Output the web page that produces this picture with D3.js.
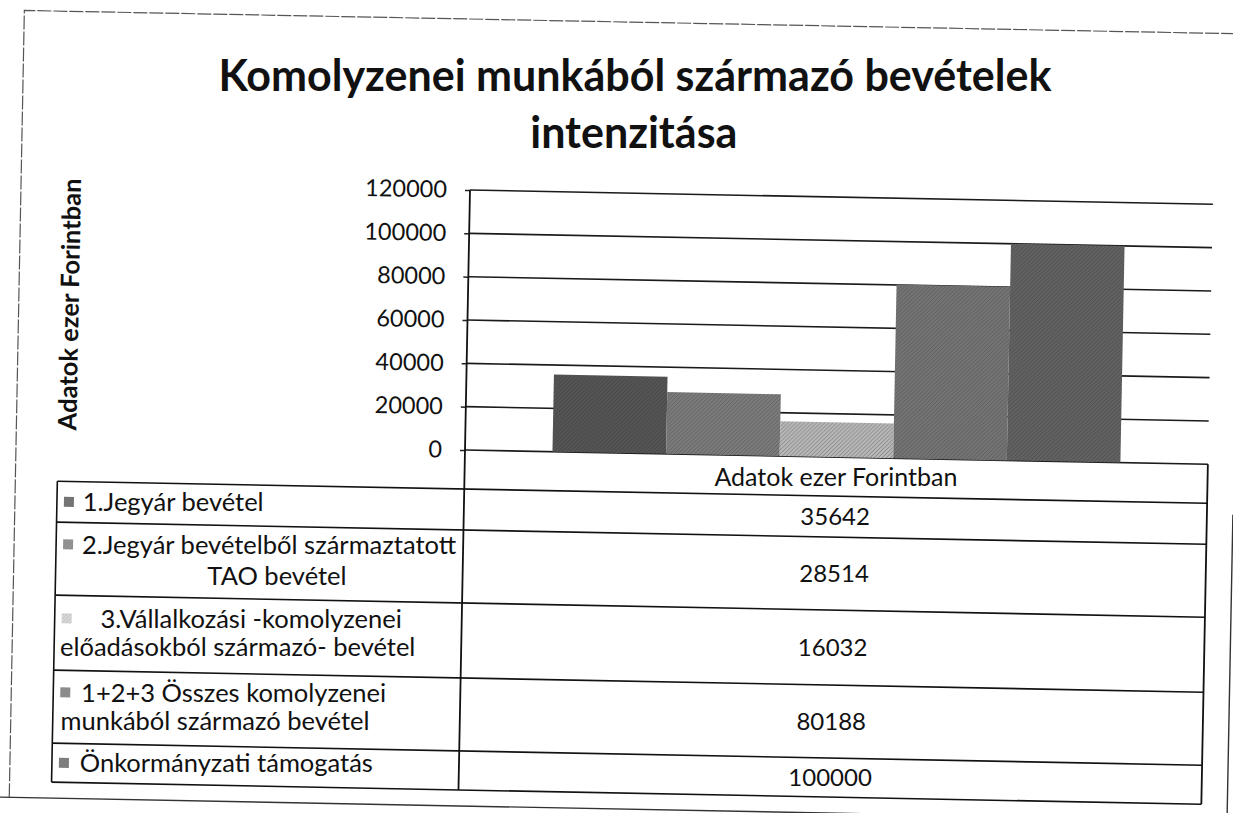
<!DOCTYPE html>
<html>
<head>
<meta charset="utf-8">
<script src="https://cdn.jsdelivr.net/npm/d3@7"></script>
<style>
  body { margin: 0; background: #fff; }
  svg { display: block; }
  text { font-family: Lato, "Open Sans", sans-serif; fill: #111; }
</style>
</head>
<body>
<div id="chart"></div>
<script>
// chart data
const titleLines = ["Komolyzenei munkából származó bevételek", "intenzitása"];
const axisTitle = "Adatok ezer Forintban";
const categories = ["Adatok ezer Forintban"];
const seriesNames = [
    ["1.Jegyár bevétel"],
    ["2.Jegyár bevételből származtatott", "TAO bevétel"],
    ["3.Vállalkozási -komolyzenei", "előadásokból származó- bevétel"],
    ["1+2+3 Összes komolyzenei", "munkából származó bevétel"],
    ["Önkormányzati támogatás"]
];
const seriesValues = [35642, 28514, 16032, 80188, 100000];
const yTicks = [0, 20000, 40000, 60000, 80000, 100000, 120000];

// look of the scanned page
const shades = ["#555555", "#7b7b7b", "#b8b8b8", "#747474", "#626262"];
const labelStartX = [[84], [84, 210], [104, 64], [86, 66], [86]];  // where each wrapped line starts

const width = 1233, height = 813;
const tilt = 1.1;
const plotLeft = 465, plotRight = 1208, plotTop = 190, plotBottom = 450;
const tableLeft = 58;
const rowEdges = [489, 530, 603, 678, 751, 790];  // table rows below the header

const svg = d3.select("#chart")
    .append("svg")
    .attr("width", width)
    .attr("height", height);

// halftone-ish textures for the bars
const defs = svg.append("defs");
shades.forEach((c, i) => {
    const p = defs.append("pattern")
        .attr("id", "tex" + i)
        .attr("width", 4)
        .attr("height", 4)
        .attr("patternUnits", "userSpaceOnUse");
    p.append("rect").attr("width", 4).attr("height", 4).attr("fill", c);
    p.append("path")
        .attr("d", i === 2 ? "M-1,1 L1,-1 M0,4 L4,0 M3,5 L5,3" : "M0,4 L4,0")
        .attr("stroke", d3.color(c).darker(i === 2 ? 0.9 : 0.6))
        .attr("stroke-width", 1);
});

// the whole page is scanned slightly tilted
const page = svg.append("g").attr("transform", `rotate(${tilt}, ${plotLeft}, ${plotBottom})`);

// keep a text upright at its (tilted) anchor
function upright(sel) {
    sel.attr("transform", function () {
        const t = d3.select(this);
        return `rotate(${-tilt}, ${t.attr("x")}, ${t.attr("y")})`;
    });
}

// outer frame of the page
page.append("path")
    .attr("d", `M16,806 L16,19 L1240,19`)
    .attr("fill", "none")
    .attr("stroke", "#555")
    .attr("stroke-width", 1.2)
    .attr("stroke-dasharray", "14 2");
page.append("path")
    .attr("d", `M0,806 L1234,806 L1234,500`)
    .attr("fill", "none")
    .attr("stroke", "#333")
    .attr("stroke-width", 1.4);

// title
page.selectAll("text.title")
    .data(titleLines)
    .join("text")
    .attr("class", "title")
    .attr("x", 628)
    .attr("y", (d, i) => 88 + i * 57)
    .attr("text-anchor", "middle")
    .style("font-size", "43px")
    .style("font-weight", "bold")
    .text(d => d)
    .call(upright);

// scales
const y = d3.scaleLinear()
    .domain([0, 120000])
    .range([plotBottom, plotTop]);

const x0 = d3.scaleBand()
    .domain(categories)
    .range([plotLeft, plotRight])
    .paddingInner(0)
    .paddingOuter(0.154);

const x1 = d3.scaleBand()
    .domain(d3.range(seriesValues.length))
    .range([0, x0.bandwidth()]);

// gridlines + axis
const yAxis = d3.axisLeft(y)
    .tickValues(yTicks)
    .tickSize(5)
    .tickPadding(18)
    .tickFormat(d3.format("d"));

const gAxis = page.append("g")
    .attr("transform", `translate(${plotLeft},0)`)
    .call(yAxis);
gAxis.select(".domain").remove();
gAxis.selectAll(".tick line").attr("stroke", "#222").attr("stroke-width", 1.5);
gAxis.selectAll(".tick text")
    .style("font-size", "23.5px")
    .style("font-family", "Lato, 'Open Sans', sans-serif")
    .attr("fill", "#111");

page.append("g")
    .selectAll("line")
    .data(yTicks)
    .join("line")
    .attr("x1", plotLeft)
    .attr("x2", plotRight)
    .attr("y1", d => y(d))
    .attr("y2", d => y(d))
    .attr("stroke", "#1a1a1a")
    .attr("stroke-width", 1.6);

// bars
page.append("g")
    .selectAll("rect")
    .data(seriesValues)
    .join("rect")
    .attr("x", (d, i) => x0(categories[0]) + x1(i))
    .attr("y", d => y(d))
    .attr("width", x1.bandwidth())
    .attr("height", d => y(0) - y(d))
    .attr("fill", (d, i) => `url(#tex${i})`);

// axis line, continuing down as the table's column divider
page.append("line")
    .attr("x1", plotLeft).attr("x2", plotLeft)
    .attr("y1", plotTop).attr("y2", rowEdges[rowEdges.length - 1])
    .attr("stroke", "#111")
    .attr("stroke-width", 1.8);

// y axis title
page.append("text")
    .attr("transform", `translate(76,312) rotate(-90)`)
    .attr("text-anchor", "middle")
    .style("font-size", "25.5px")
    .style("font-weight", "bold")
    .text(axisTitle);

// data table
const table = page.append("g");

table.append("text")
    .attr("x", x0(categories[0]) + x0.bandwidth() / 2)
    .attr("y", (plotBottom + rowEdges[0]) / 2 + 9)
    .attr("text-anchor", "middle")
    .style("font-size", "25px")
    .text(categories[0])
    .call(upright);

// horizontal rules
table.selectAll("line.row")
    .data(rowEdges)
    .join("line")
    .attr("class", "row")
    .attr("x1", tableLeft)
    .attr("x2", plotRight)
    .attr("y1", d => d)
    .attr("y2", d => d)
    .attr("stroke", "#111")
    .attr("stroke-width", 1.6);

// left and right borders
table.append("line")
    .attr("x1", tableLeft).attr("x2", tableLeft)
    .attr("y1", rowEdges[0]).attr("y2", rowEdges[rowEdges.length - 1])
    .attr("stroke", "#111").attr("stroke-width", 1.6);
table.append("line")
    .attr("x1", plotRight).attr("x2", plotRight)
    .attr("y1", plotBottom).attr("y2", rowEdges[rowEdges.length - 1])
    .attr("stroke", "#111").attr("stroke-width", 1.8);

const rows = table.selectAll("g.srow")
    .data(seriesValues)
    .join("g")
    .attr("class", "srow");

const lineGap = 29;
const rowMid = i => (rowEdges[i] + rowEdges[i + 1]) / 2;

// legend keys
rows.append("rect")
    .attr("x", tableLeft + 7)
    .attr("y", (d, i) => rowMid(i) - (seriesNames[i].length - 1) * lineGap / 2 - 5)
    .attr("width", 10)
    .attr("height", 10)
    .attr("fill", (d, i) => `url(#tex${i})`)
    .attr("opacity", (d, i) => i === 2 ? 0.55 : 0.8);

// series names
rows.each(function (d, i) {
    const lines = seriesNames[i];
    d3.select(this).selectAll("text.name")
        .data(lines)
        .join("text")
        .attr("class", "name")
        .attr("x", (t, j) => labelStartX[i][j])
        .attr("y", (t, j) => rowMid(i) + (j - (lines.length - 1) / 2) * lineGap + 9)
        .style("font-size", "25.5px")
        .text(t => t)
        .call(upright);
});

// values
rows.append("text")
    .attr("x", x0(categories[0]) + x0.bandwidth() / 2)
    .attr("y", (d, i) => rowMid(i) + 8)
    .attr("text-anchor", "middle")
    .style("font-size", "24px")
    .text(d => d)
    .call(upright);
</script>
</body>
</html>
